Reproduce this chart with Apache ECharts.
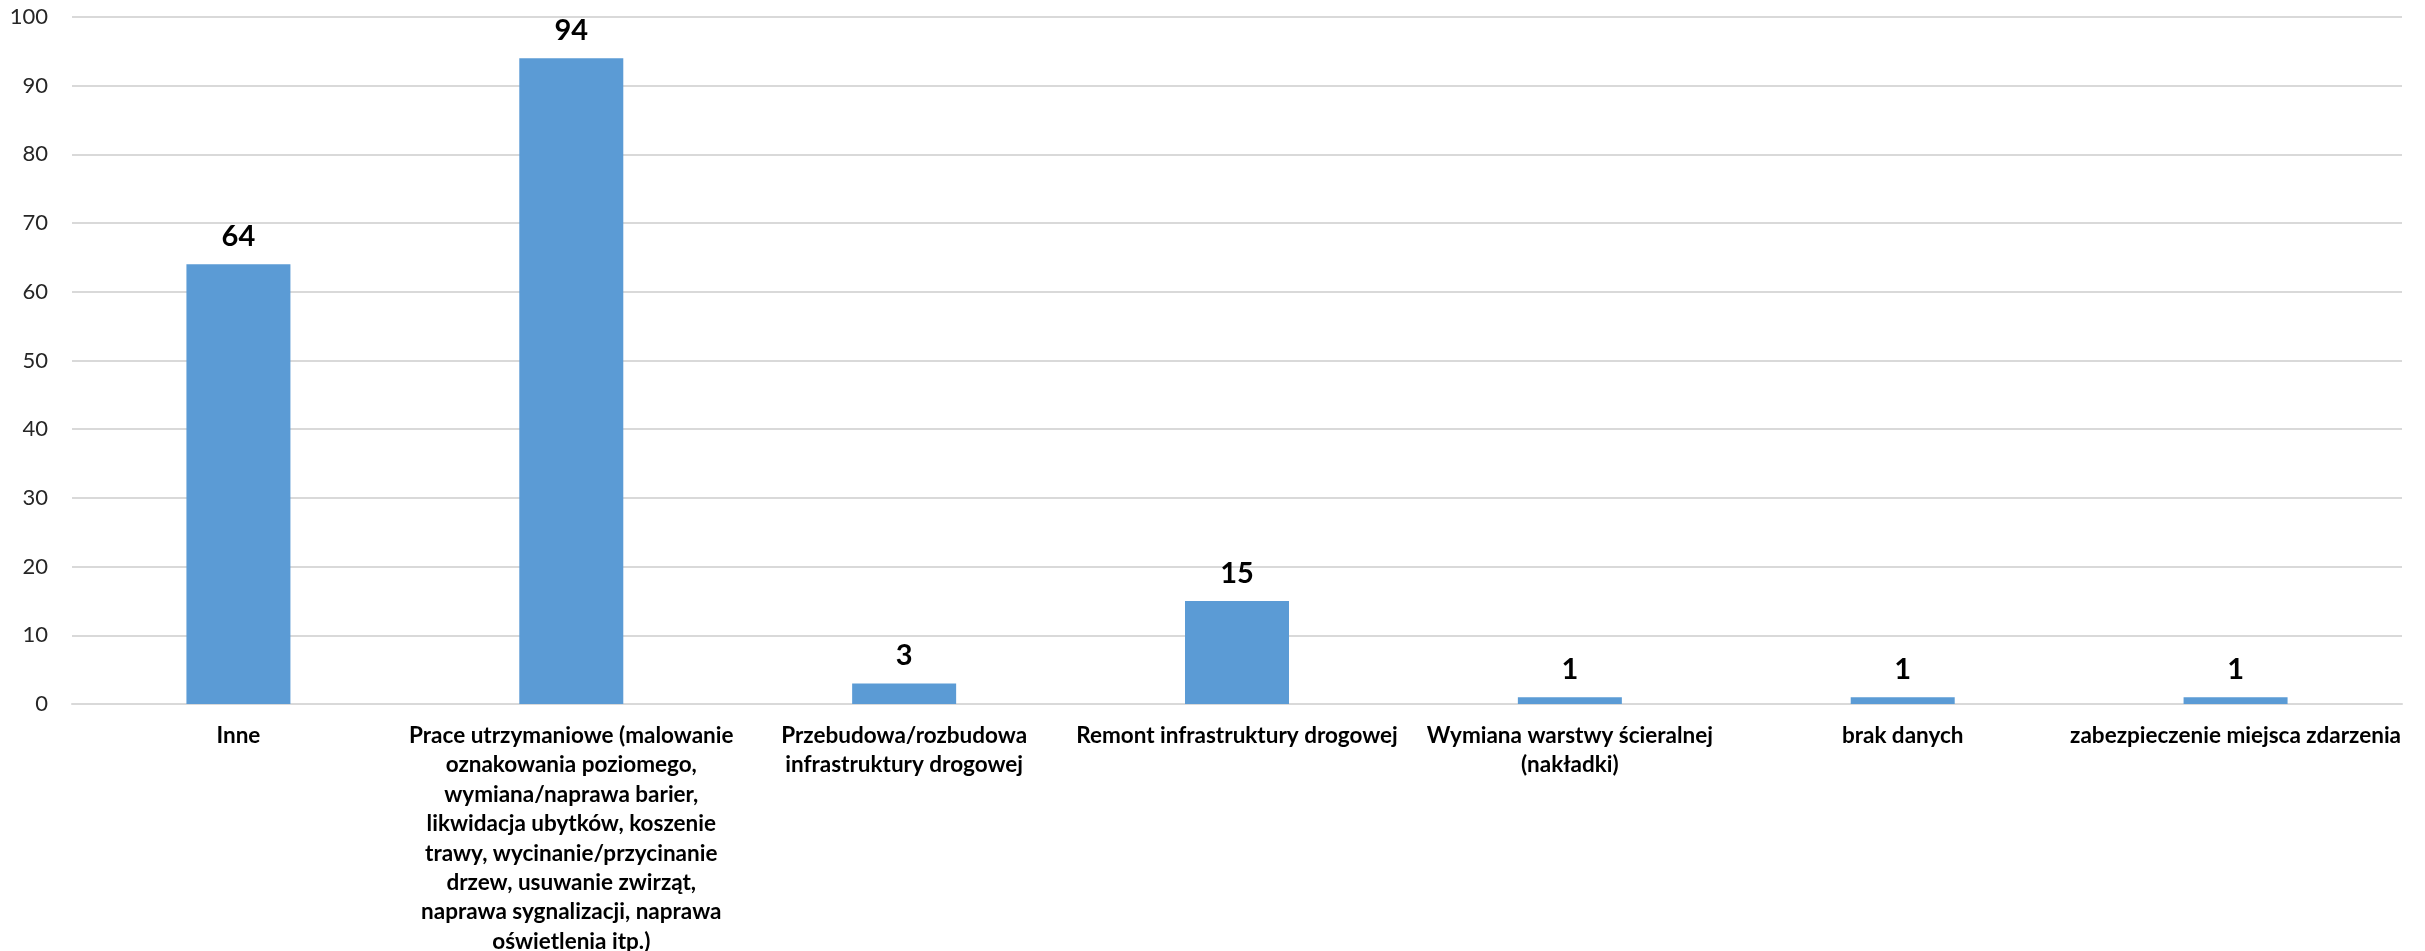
<!DOCTYPE html>
<html>
<head>
<meta charset="utf-8">
<style>html,body{margin:0;padding:0;background:#fff;}#c{width:2425px;height:951px;}</style>
<script src="https://cdn.jsdelivr.net/npm/echarts@6/dist/echarts.min.js"></script>
</head>
<body>
<div id="c"></div>
<script>
const categories = [
  "Inne",
  "Prace utrzymaniowe (malowanie\noznakowania poziomego,\nwymiana/naprawa barier,\nlikwidacja ubytków, koszenie\ntrawy, wycinanie/przycinanie\ndrzew, usuwanie zwirząt,\nnaprawa sygnalizacji, naprawa\noświetlenia itp.)",
  "Przebudowa/rozbudowa\ninfrastruktury drogowej",
  "Remont infrastruktury drogowej",
  "Wymiana warstwy ścieralnej\n(nakładki)",
  "brak danych",
  "zabezpieczenie miejsca zdarzenia"
];
const values = [64, 94, 3, 15, 1, 1, 1];
const yTicks = {min: 0, max: 100, interval: 10};

const FONT = 'Lato, "Open Sans", sans-serif';
const chart = echarts.init(document.getElementById('c'), null, {renderer: 'canvas'});
chart.setOption({
  animation: false,
  backgroundColor: '#ffffff',
  grid: {left: 72, right: 23, top: 17, bottom: 247, containLabel: false, outerBoundsMode: 'none'},
  xAxis: {
    type: 'category',
    data: categories,
    axisTick: {show: false},
    axisLine: {show: true, lineStyle: {color: '#d9d9d9', width: 2}},
    axisLabel: {
      interval: 0,
      margin: 17,
      fontFamily: FONT,
      fontWeight: 'bold',
      fontSize: 22.5,
      lineHeight: 29.4,
      color: '#000000',
      align: 'center'
    }
  },
  yAxis: {
    type: 'value',
    min: yTicks.min, max: yTicks.max, interval: yTicks.interval,
    axisLine: {show: false},
    axisTick: {show: false},
    splitLine: {lineStyle: {color: '#d9d9d9', width: 2}},
    axisLabel: {margin: 24, fontFamily: FONT, fontSize: 22, color: '#262626'}
  },
  series: [{
    type: 'bar',
    data: values,
    barWidth: 104,
    itemStyle: {color: '#5b9bd5'},
    label: {
      show: true,
      position: 'top',
      distance: 13,
      fontFamily: FONT,
      fontWeight: 'bold',
      fontSize: 29,
      color: '#000000'
    }
  }]
});
</script>
</body>
</html>
